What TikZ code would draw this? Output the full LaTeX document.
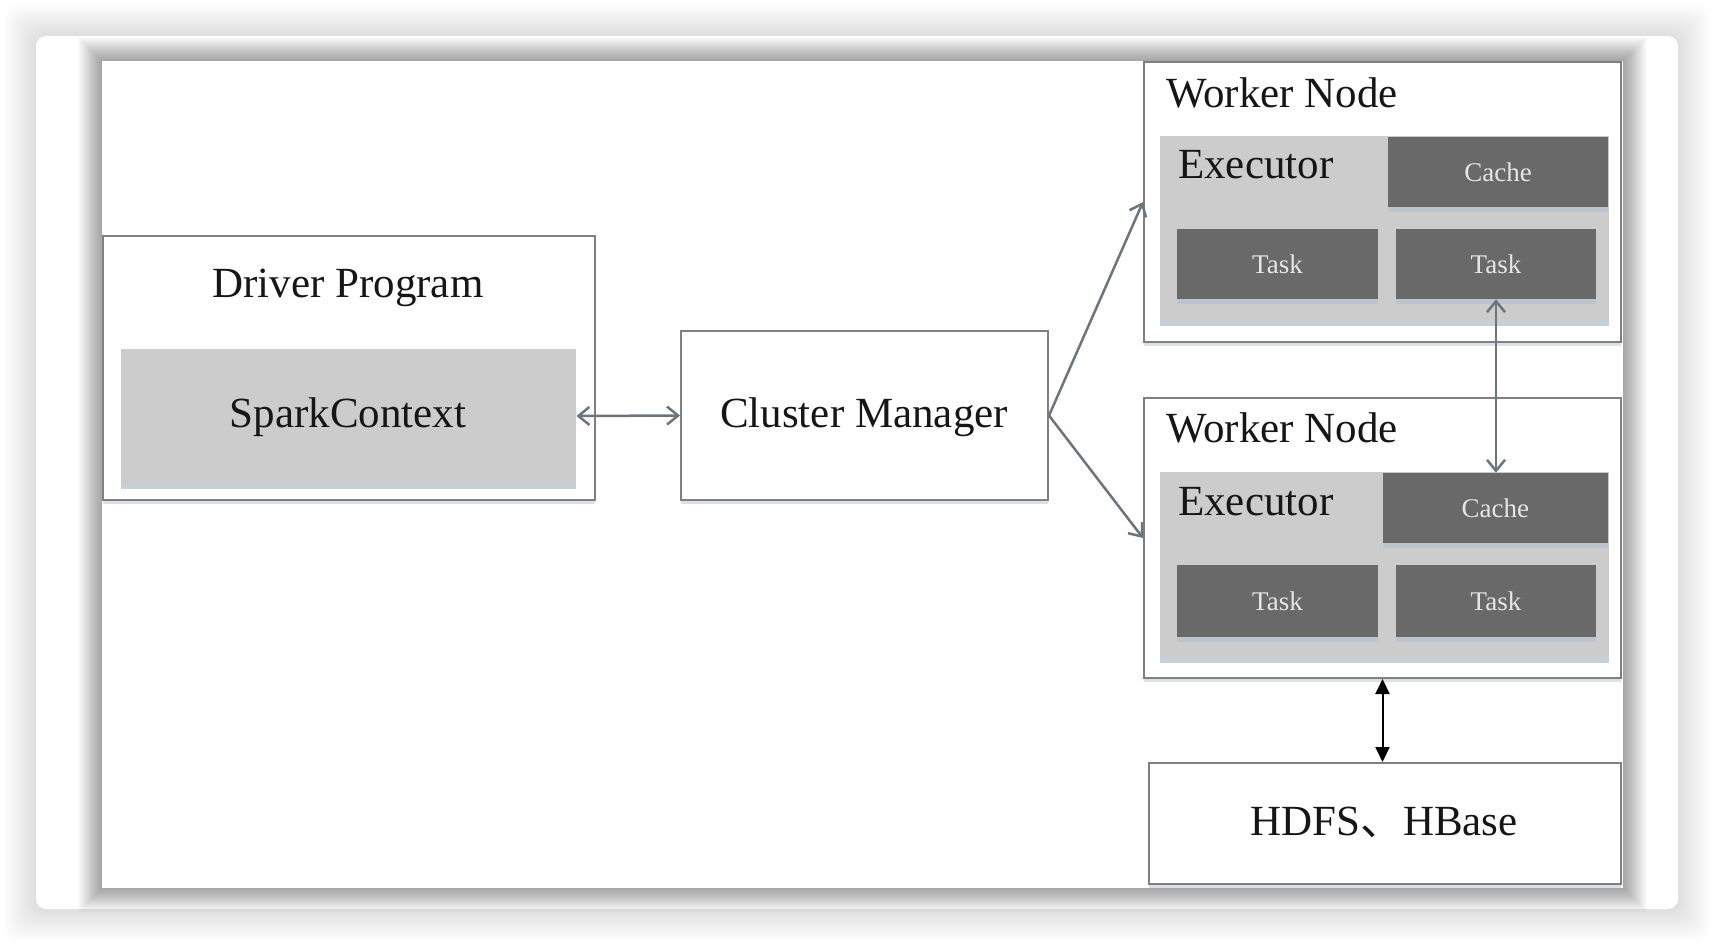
\documentclass[tikz,border=0pt]{standalone}
\usepackage{fontspec}
\setmainfont{Liberation Serif}
\newfontfamily\cjkfont{Noto Sans CJK SC}
\usetikzlibrary{arrows.meta,shadows}
\definecolor{boxline}{HTML}{808080}
\definecolor{lightfill}{HTML}{CCCCCC}
\definecolor{darkfill}{HTML}{696969}
\definecolor{arrowgray}{HTML}{6C757E}
\definecolor{shadowblue}{HTML}{B9C3CE}
\definecolor{txt}{HTML}{161616}
\definecolor{lighttxt}{HTML}{E6E6E6}
\begin{document}
\begin{tikzpicture}[x=1pt,y=-1pt,
  framebox/.style={draw=boxline, line width=2pt, fill=white, inner sep=0pt,
    drop shadow={shadow xshift=0pt,shadow yshift=-4pt,fill=shadowblue,opacity=0.5}},
  lightbox/.style={draw=none, fill=lightfill, inner sep=0pt,
    drop shadow={shadow xshift=0pt,shadow yshift=-6pt,fill=shadowblue,opacity=0.8}},
  darkbox/.style={draw=none, fill=darkfill, inner sep=0pt, text=lighttxt,
    font=\fontsize{27}{31}\selectfont,
    drop shadow={shadow xshift=0pt,shadow yshift=-5pt,fill=shadowblue,opacity=0.8}},
  bigtext/.style={inner sep=0pt, text=txt, font=\fontsize{43}{50}\selectfont},
  grayarrow/.style={draw=arrowgray, line width=2.5pt,
    {Straight Barb[length=11pt,width=18pt,line width=2.5pt]}-{Straight Barb[length=11pt,width=18pt,line width=2.5pt]}},
  grayto/.style={draw=arrowgray, line width=2.5pt,
    -{Straight Barb[length=11pt,width=18pt,line width=2.5pt]}},
  blackarrow/.style={draw=black, line width=2pt,
    {Triangle[length=15pt,width=14pt]}-{Triangle[length=15pt,width=14pt]}}
]
\useasboundingbox (0,0) rectangle (1714,946);
\fill[white] (0,0) rectangle (1714,946);
% outer card with soft glow
\foreach \i in {1,...,32}{
  \fill[black, opacity=0.0055, rounded corners=12pt] ({36-\i},{36-\i}) rectangle ({1678+\i},{909+\i});
}
\fill[white, rounded corners=10pt] (36,36) rectangle (1678,909);
% inner panel with darker shadow
\foreach \i in {1,...,24}{
  \fill[black, opacity=0.017] ({102-\i},{61-\i}) rectangle ({1623+\i},{888+\i});
}
\fill[white] (102,61) rectangle (1623,888);

% Driver program
\node[framebox, minimum width=492pt, minimum height=264pt] (driver) at (349,368) {};
\node[bigtext, anchor=base] (drivertxt) at (348,297) {Driver Program};
\node[lightbox, minimum width=455pt, minimum height=134pt] (sc) at (348.75,416) {};
\node[bigtext, anchor=base] (sctxt) at (348,427) {SparkContext};

% Cluster manager
\node[framebox, minimum width=367pt, minimum height=169pt] (cm) at (864.5,415.5) {};
\node[bigtext, anchor=base] (cmtxt) at (864,427) {Cluster Manager};

% Worker node 1
\node[framebox, minimum width=477pt, minimum height=280pt] (w1) at (1382.5,202) {};
\node[bigtext, anchor=base west] (w1txt) at (1166,107) {Worker Node};
\node[lightbox, minimum width=448.5pt, minimum height=184pt] (e1) at (1384.25,228) {};
\node[bigtext, anchor=base west] (e1txt) at (1178,178) {Executor};
\node[darkbox, minimum width=220pt, minimum height=70pt] (c1) at (1498,172) {Cache};
\node[darkbox, minimum width=201pt, minimum height=70pt] (t1a) at (1277.5,264) {Task};
\node[darkbox, minimum width=200pt, minimum height=70pt] (t1b) at (1496,264) {Task};

% Worker node 2
\node[framebox, minimum width=477pt, minimum height=280pt] (w2) at (1382.5,538) {};
\node[bigtext, anchor=base west] (w2txt) at (1166,442) {Worker Node};
\node[lightbox, minimum width=448.5pt, minimum height=185pt] (e2) at (1384.25,564.5) {};
\node[bigtext, anchor=base west] (e2txt) at (1178,515) {Executor};
\node[darkbox, minimum width=224.5pt, minimum height=70pt] (c2) at (1495.25,508) {Cache};
\node[darkbox, minimum width=201pt, minimum height=72pt] (t2a) at (1277.5,601) {Task};
\node[darkbox, minimum width=200pt, minimum height=72pt] (t2b) at (1496,601) {Task};

% HDFS
\node[framebox, minimum width=472pt, minimum height=121pt] (hdfs) at (1385,823.5) {};
\node[bigtext, anchor=base] (hdfstxt) at (1384,835) {HDFS{\cjkfont 、}HBase};

% connectors
\draw[grayarrow] (sc.east) -- (cm.west);
\draw[grayto] (cm.east) -- (w1.west);
\draw[grayto] (cm.east) -- (w2.west);
\draw[grayarrow] (t1b.south) -- (t1b.south |- c2.north);
\draw[blackarrow] (w2.south) -- (w2.south |- hdfs.north);
\end{tikzpicture}
\end{document}
